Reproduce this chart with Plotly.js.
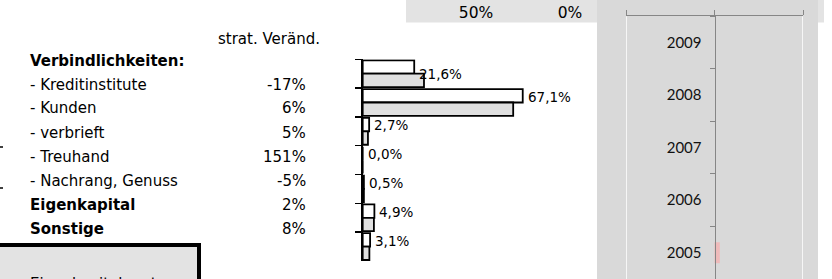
<!DOCTYPE html>
<html><head><meta charset="utf-8">
<script src="https://cdn.plot.ly/plotly-3.0.1.min.js"></script>
<style>html,body{margin:0;padding:0;background:#fff;overflow:hidden}#chart{width:832px;height:279px}</style>
</head><body><div id="chart"></div>
<script>
// ---------- DATA ----------
const groupHeader = 'Verbindlichkeiten:';
const columnHeader = 'strat. Veränd.';
const categories = ['Kreditinstitute', 'Kunden', 'verbrieft', 'Treuhand', 'Nachrang, Genuss', 'Eigenkapital', 'Sonstige'];
const isSubItem = [true, true, true, true, true, false, false];
const stratVeraend = [-17, 6, 5, 151, -5, 2, 8];
const shareWhite = [21.6, 67.1, 2.7, 0.0, 0.5, 4.9, 3.1];
const shareGrey = [25.7, 63.1, 2.2, 0.0, 0.5, 4.7, 2.8];
const years = ['2005', '2006', '2007', '2008', '2009'];
const yearValues = [0.6, 0, 0, 0, 0];
const topBandTicks = [50, 0];
const rightAxisTicks = [-10, 0, 10];
const boxText = 'Eigenkapitalquote';

// ---------- LAYOUT HELPERS ----------
const W = 832, H = 279;
const px = x => x / W;
const py = y => 1 - y / H;
const TXT = 'DejaVu Sans';
const fmt = v => v.toFixed(1).replace('.', ',') + '%';

const traces = [
  { type: 'bar', orientation: 'h', x: shareWhite, y: categories, xaxis: 'x', yaxis: 'y',
    marker: { color: '#ffffff', line: { color: '#000', width: 1.8 } }, hoverinfo: 'skip' },
  { type: 'bar', orientation: 'h', x: shareGrey, y: categories, xaxis: 'x', yaxis: 'y',
    marker: { color: '#e0e0e0', line: { color: '#000', width: 1.8 } }, hoverinfo: 'skip' },
  { type: 'bar', orientation: 'h', x: yearValues, y: years, xaxis: 'x4', yaxis: 'y4', width: 0.4,
    marker: { color: '#efbaba', line: { width: 0 } }, hoverinfo: 'skip' },
  // carrier so the top-band percentage axis is laid out (draws nothing)
  { type: 'scatter', mode: 'none', x: topBandTicks, y: topBandTicks.map(() => 0.5),
    xaxis: 'x3', yaxis: 'y3', hoverinfo: 'skip' }
];

const annotations = [];
const rowY0 = 60.5, rowStep = 24;
annotations.push({ xref: 'paper', yref: 'paper', x: px(216), y: py(38.5), xanchor: 'left', yanchor: 'middle',
  text: columnHeader, showarrow: false, font: { family: TXT, size: 15, color: '#000' } });
annotations.push({ xref: 'paper', yref: 'paper', x: px(28), y: py(rowY0), xanchor: 'left', yanchor: 'middle',
  text: '<b>' + groupHeader + '</b>', showarrow: false, font: { family: TXT, size: 15, color: '#000' } });
categories.forEach((c, i) => {
  const yy = py(rowY0 + rowStep * (i + 1));
  const label = isSubItem[i] ? '- ' + c : '<b>' + c + '</b>';
  annotations.push({ xref: 'paper', yref: 'paper', x: px(28), y: yy, xanchor: 'left', yanchor: 'middle',
    text: label, showarrow: false, font: { family: TXT, size: 15, color: '#000' } });
  annotations.push({ xref: 'paper', yref: 'paper', x: px(308), y: yy, xanchor: 'right', yanchor: 'middle',
    text: stratVeraend[i] + '%', showarrow: false, font: { family: TXT, size: 15, color: '#000' } });
  annotations.push({ xref: 'x', yref: 'y', x: shareWhite[i], y: c, xanchor: 'left', yanchor: 'middle',
    xshift: 3, yshift: i === 0 ? 0 : 6, text: fmt(shareWhite[i]), showarrow: false,
    font: { family: TXT, size: 13.5, color: '#000' } });
});
annotations.push({ xref: 'paper', yref: 'paper', x: px(28), y: py(284), xanchor: 'left', yanchor: 'middle',
  text: boxText, showarrow: false, font: { family: TXT, size: 15, color: '#000' } });

const shapes = [
  { type: 'rect', xref: 'paper', yref: 'paper', x0: px(406), x1: px(824), y0: py(22.5), y1: 1,
    fillcolor: '#e3e3e3', line: { width: 0 }, layer: 'below' },
  { type: 'rect', xref: 'paper', yref: 'paper', x0: px(597), x1: px(818), y0: -0.05, y1: 1,
    fillcolor: '#d9d9d9', line: { width: 0 }, layer: 'below' },
  { type: 'rect', xref: 'paper', yref: 'paper', x0: -0.05, x1: px(199), y0: -0.2, y1: py(245),
    fillcolor: '#e3e3e3', line: { color: '#000', width: 4 }, layer: 'below' },
  { type: 'line', xref: 'paper', yref: 'paper', x0: 0, x1: px(3), y0: py(147), y1: py(147),
    line: { color: '#000', width: 1.5 } },
  { type: 'line', xref: 'paper', yref: 'paper', x0: 0, x1: px(3), y0: py(188), y1: py(188),
    line: { color: '#000', width: 1.5 } }
];
// white gridlines of the right panel at its outer ticks
rightAxisTicks.filter(v => v !== 0).forEach(v => {
  shapes.push({ type: 'line', xref: 'x4', yref: 'paper', x0: v, x1: v, y0: -0.05, y1: py(16.3),
    line: { color: '#ffffff', width: 1.5 }, layer: 'below' });
});

const zeroX = 362.7, pxPerPct = 2.385, maxPct = 80;
const layout = {
  width: W, height: H, margin: { l: 0, r: 0, t: 0, b: 0, pad: 0 },
  paper_bgcolor: '#ffffff', plot_bgcolor: 'rgba(0,0,0,0)',
  showlegend: false, barmode: 'group', bargap: 0.07, bargroupgap: 0,
  xaxis: { domain: [px(zeroX), px(zeroX + maxPct * pxPerPct)], range: [0, maxPct], visible: false, fixedrange: true },
  yaxis: { domain: [py(261), py(59.3)], type: 'category', range: [6.5, -0.5], showline: true,
    linecolor: '#000', linewidth: 1.5, ticks: 'outside', ticklen: 6, tickwidth: 1.5, tickcolor: '#000',
    tickson: 'boundaries', showticklabels: false, showgrid: false, zeroline: false, fixedrange: true },
  xaxis3: { domain: [px(406), px(597)], range: [(570 - 406) / 1.88, (570 - 597) / 1.88], anchor: 'free',
    position: 1, side: 'bottom', tickmode: 'array', tickvals: topBandTicks,
    ticktext: topBandTicks.map(v => v + '%'), ticks: '', showline: false,
    showgrid: false, zeroline: false, ticklabelstandoff: 1,
    tickfont: { family: TXT, size: 15.5, color: '#000' }, fixedrange: true },
  yaxis3: { domain: [py(22), 1], anchor: 'x3', visible: false, range: [0, 1] },
  xaxis4: { domain: [px(626), px(803)], range: [-10, 10], anchor: 'y4', side: 'top', tickvals: rightAxisTicks,
    ticks: 'outside', ticklen: 5, tickcolor: '#868686', showline: true, linecolor: '#868686', linewidth: 1,
    showticklabels: false, showgrid: false, zeroline: false, fixedrange: true },
  yaxis4: { domain: [0, py(16.3)], type: 'category', categoryarray: years, range: [-0.5, 4.5],
    anchor: 'free', position: px(714.5), ticks: 'outside', ticklen: 5, tickcolor: '#868686',
    tickson: 'boundaries', showline: true, linecolor: '#868686', linewidth: 1, showgrid: false,
    zeroline: false, ticklabelstandoff: 10, tickfont: { family: 'Lato', size: 15, color: '#111' }, fixedrange: true },
  annotations: annotations,
  shapes: shapes
};

Plotly.newPlot('chart', traces, layout, { displayModeBar: false, staticPlot: true });
</script>
</body></html>
